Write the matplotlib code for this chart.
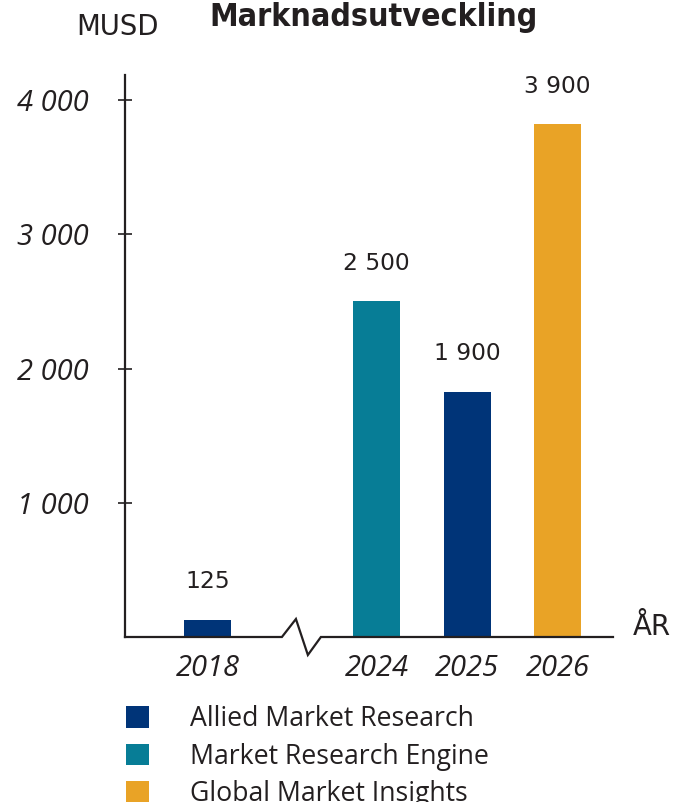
import matplotlib
matplotlib.use("Agg")
import matplotlib.pyplot as plt
from matplotlib.patches import Patch
from matplotlib.lines import Line2D

# ---------------- data ----------------
years = ["2018", "2024", "2025", "2026"]
values = [130, 2500, 1825, 3820]           # bar heights as drawn (MUSD)
value_labels = ["125", "2 500", "1 900", "3 900"]
sources = ["Allied Market Research", "Market Research Engine",
           "Allied Market Research", "Global Market Insights"]
legend_order = ["Allied Market Research", "Market Research Engine",
                "Global Market Insights"]
yticks = [1000, 2000, 3000, 4000]
ytick_labels = ["1 000", "2 000", "3 000", "4 000"]
title = "Marknadsutveckling"
unit_label = "MUSD"
x_label = "ÅR"

# ---------------- style ----------------
colors = {"Allied Market Research": "#003478",
          "Market Research Engine": "#077D96",
          "Global Market Insights": "#E9A326"}
ink = "#231f20"
W, H = 684, 802
DPI = 100

fig = plt.figure(figsize=(W / DPI, H / DPI), dpi=DPI)

def fx(px):
    return px / W

def fy(py):
    return 1 - py / H

ax_left, ax_right, ax_bottom, ax_top = 125, 613, 637, 75
ax = fig.add_axes([fx(ax_left), fy(ax_bottom), fx(ax_right) - fx(ax_left),
                   fy(ax_top) - fy(ax_bottom)])

# x layout: broken axis between 2018 and later years
xpos = [0, 1.87, 2.87, 3.87]
unit_px = 90.5
ax.set_xlim(-(207.5 - ax_left) / unit_px, 3.87 + (ax_right - 557.5) / unit_px)
px_per_val = (637 - 100) / 4000.0
ax.set_ylim(0, (ax_bottom - ax_top) / px_per_val)

bar_colors = [colors[s] for s in sources]
bars = ax.bar(xpos, values, width=0.52, color=bar_colors, zorder=2)

for b, lab in zip(bars, value_labels):
    ax.annotate(lab, (b.get_x() + b.get_width() / 2, b.get_height()),
                xytext=(0, 22.7), textcoords="offset points",
                ha="center", va="baseline", fontsize=16.8,
                family="DejaVu Sans", color=ink)

# spines
for s in ["top", "right", "bottom"]:
    ax.spines[s].set_visible(False)
ax.spines["left"].set_color(ink)
ax.spines["left"].set_linewidth(1.6)

# bottom axis with break
gap_mid = (xpos[0] + xpos[1]) / 2
x0, x1 = ax.get_xlim()
zig_dx = [-0.112, 0.043, 0.175, 0.319]
zig_dy = [0, 134, -134, 0]
bx = [x0] + [gap_mid + d for d in zig_dx] + [x1]
by = [0] + zig_dy + [0]
ax.add_line(Line2D(bx, by, color=ink, lw=1.6, clip_on=False, zorder=3,
                   solid_joinstyle="miter"))

ax.set_yticks(yticks, ytick_labels)
ax.tick_params(axis="y", direction="inout", length=10, width=1.2,
               color=ink, pad=21.5, labelsize=21, labelcolor=ink)
for t in ax.get_yticklabels():
    t.set_family("Open Sans")
    t.set_style("italic")

ax.set_xticks(xpos, years)
ax.tick_params(axis="x", length=0, pad=12.5, labelsize=21, labelcolor=ink)
for t in ax.get_xticklabels():
    t.set_family("Open Sans")
    t.set_style("italic")

# texts
fig.text(fx(373.5), fy(26), title, ha="center", va="baseline",
         fontsize=23, fontweight="bold", fontstretch="condensed",
         family="DejaVu Sans", color=ink)
fig.text(fx(76), fy(35), unit_label, ha="left", va="baseline",
         fontsize=19.8, family="DejaVu Sans", color=ink)
fig.text(fx(633), fy(635), x_label, ha="left", va="baseline",
         fontsize=20, family="DejaVu Sans", color=ink)

# legend
handles = [Patch(facecolor=colors[s], edgecolor="none") for s in legend_order]
leg = fig.legend(handles, legend_order, loc="upper left",
                 bbox_to_anchor=(fx(126), fy(705)), frameon=False,
                 borderpad=0, borderaxespad=0, handlelength=0.87,
                 handleheight=0.87, handletextpad=1.52, labelspacing=0.36,
                 prop={"family": "Open Sans", "size": 19.2},
                 labelcolor=ink)

fig.savefig("out.png", dpi=DPI)
